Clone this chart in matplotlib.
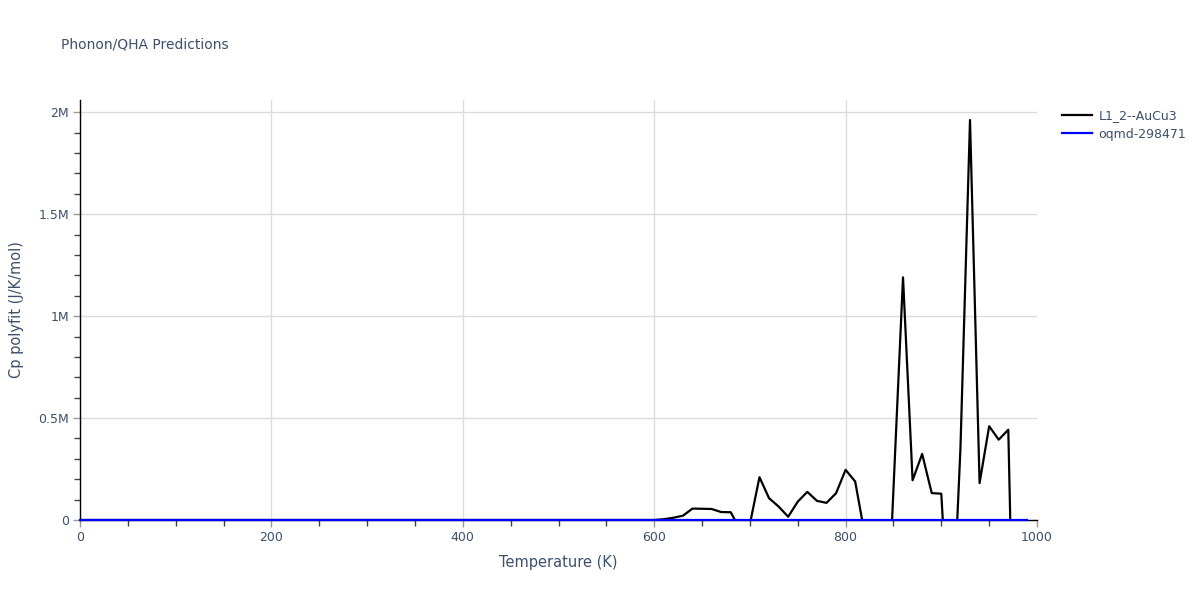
import numpy as np
import matplotlib.pyplot as plt
from matplotlib.ticker import FuncFormatter, MultipleLocator

# Temperature grid (K)
temperature = np.arange(0, 1000, 10)

# Cp polyfit for L1_2--AuCu3 (J/K/mol)
cp_aucu3 = [
    0, 0, 0, 0, 0, 0, 0, 0, 0, 0,
    0, 0, 0, 0, 0, 0, 0, 0, 0, 0,
    0, 0, 0, 0, 0, 0, 0, 0, 0, 0,
    0, 0, 0, 0, 0, 0, 0, 0, 0, 0,
    0, 0, 0, 0, 0, 0, 0, 0, 0, 0,
    0, 0, 0, 0, 0, 0, 0, 0, 0, 0,
    0.0, 4e3, 11e3, 21e3, 56e3, 55e3, 54e3, 39e3, 38e3, -50e3,
    -20e3, 210e3, 107e3, 66e3, 16e3, 90e3, 138e3, 94e3, 84e3, 131e3,
    246e3, 189e3, -70e3, -500e3, -900e3, 150e3, 1190e3, 195e3, 324e3, 132e3,
    129e3, -700e3, 350e3, 1962e3, 181e3, 460e3, 394e3, 443e3, -1700e3, -1500e3,
]

# Cp polyfit for oqmd-298471 (flat at zero)
cp_oqmd = [
    0, 0, 0, 0, 0, 0, 0, 0, 0, 0,
    0, 0, 0, 0, 0, 0, 0, 0, 0, 0,
    0, 0, 0, 0, 0, 0, 0, 0, 0, 0,
    0, 0, 0, 0, 0, 0, 0, 0, 0, 0,
    0, 0, 0, 0, 0, 0, 0, 0, 0, 0,
    0, 0, 0, 0, 0, 0, 0, 0, 0, 0,
    0, 0, 0, 0, 0, 0, 0, 0, 0, 0,
    0, 0, 0, 0, 0, 0, 0, 0, 0, 0,
    0, 0, 0, 0, 0, 0, 0, 0, 0, 0,
    0, 0, 0, 0, 0, 0, 0, 0, 0, 0,
]

text_color = '#3d4f6e'
plt.rcParams['font.family'] = ['DejaVu Sans']

fig = plt.figure(figsize=(12, 6), dpi=100)
ax = fig.add_axes([80 / 1200, 1 - 520 / 600, (1037 - 80) / 1200, 420 / 600])

l1, = ax.plot(temperature, cp_aucu3, color='black', lw=1.6, label='L1_2--AuCu3', zorder=3)
l2, = ax.plot(temperature, cp_oqmd, color='blue', lw=1.6, label='oqmd-298471', zorder=4, clip_on=False)

ax.set_xlim(0, 1000)
ax.set_ylim(0, 1.05 * max(cp_aucu3))

ax.xaxis.set_major_locator(MultipleLocator(200))
ax.xaxis.set_minor_locator(MultipleLocator(50))
ax.yaxis.set_major_locator(MultipleLocator(500e3))
ax.yaxis.set_minor_locator(MultipleLocator(100e3))


def fmt_m(v, pos):
    if v == 0:
        return '0'
    return f'{v / 1e6:g}M'


ax.yaxis.set_major_formatter(FuncFormatter(fmt_m))

ax.grid(True, which='major', color='#dcdcdc', lw=1, zorder=0)
ax.set_axisbelow(True)
for side in ['top', 'right']:
    ax.spines[side].set_visible(False)
for side in ['left', 'bottom']:
    ax.spines[side].set_color('black')
    ax.spines[side].set_linewidth(1)

ax.tick_params(which='major', direction='out', length=5, width=1, color='#999999',
               labelcolor=text_color, labelsize=9, pad=3)
ax.tick_params(which='minor', direction='out', length=4, width=1, color='#444444')

ax.set_xlabel('Temperature (K)', color=text_color, fontsize=10.5, labelpad=8)
ax.set_ylabel('Cp polyfit (J/K/mol)', color=text_color, fontsize=10.5, labelpad=10)

# no vertical gridline on the right edge (plotly style)
fig.canvas.draw()
for tick in ax.xaxis.get_major_ticks():
    if tick.get_loc() >= 1000:
        tick.gridline.set_visible(False)

fig.text(61 / 1200, 1 - 45 / 600, 'Phonon/QHA Predictions', color=text_color,
         fontsize=10, va='center', ha='left')

fig.legend(handles=[l1, l2], loc='upper left', bbox_to_anchor=(1057 / 1200, 1 - 104 / 600),
           frameon=False, fontsize=9, handlelength=2.4, handletextpad=0.5,
           labelspacing=0.45, labelcolor=text_color, borderaxespad=0)

fig.savefig('out.png', dpi=100)
plt.close(fig)
